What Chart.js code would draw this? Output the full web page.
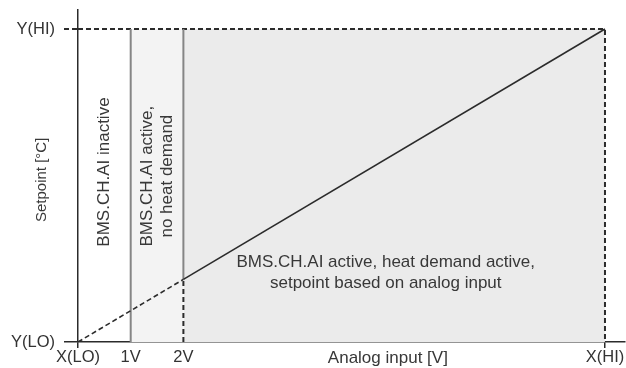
<!DOCTYPE html>
<html>
<head>
<meta charset="utf-8">
<script src="https://cdn.jsdelivr.net/npm/chart.js@4/dist/chart.umd.min.js"></script>
<style>
  html, body { margin: 0; padding: 0; background: #fff; }
  #wrap { width: 626px; height: 368px; }
</style>
</head>
<body>
<div id="wrap"><canvas id="chart"></canvas></div>
<script>
// axis ticks
const xTickValues = [0, 1, 2, 10];
const xTickLabels = ['X(LO)', '1V', '2V', 'X(HI)'];
const yTickValues = [0, 10];
const yTickLabels = ['Y(LO)', 'Y(HI)'];

// setpoint curve: dashed below 2V, solid above
const setpointX = [0, 2, 10];
const setpointY = [0, 2, 10];

// zone borders
const zoneEdges = [0, 1, 2, 10];
const yLow = 0;
const yHigh = 10;

const zoneTexts = [
  ['BMS.CH.AI inactive'],
  ['BMS.CH.AI active,', 'no heat demand'],
  ['BMS.CH.AI active, heat demand active,', 'setpoint based on analog input'],
];

const DARK = '#2b2b2b';
const GREY = '#858585';
const DASH = [5, 3];
const FONT = '"Liberation Sans", Arial, sans-serif';

const pts = (xs, ys) => xs.map((x, i) => ({ x, y: ys[i] }));

// free text: zone captions and axis titles
const textPlugin = {
  id: 'texts',
  afterDatasetsDraw(chart) {
    const { ctx, chartArea, scales: { x, y } } = chart;
    ctx.save();
    ctx.fillStyle = '#383838';
    ctx.textAlign = 'center';
    ctx.textBaseline = 'middle';

    const vertical = (lines, px, py, size, gap) => {
      ctx.save();
      ctx.translate(px, py);
      ctx.rotate(-Math.PI / 2);
      ctx.font = size + 'px ' + FONT;
      lines.forEach((t, i) => ctx.fillText(t, 0, (i - (lines.length - 1) / 2) * gap));
      ctx.restore();
    };
    vertical(zoneTexts[0], x.getPixelForValue((zoneEdges[0] + zoneEdges[1]) / 2), y.getPixelForValue(5.43), 17, 20);
    vertical(zoneTexts[1], x.getPixelForValue((zoneEdges[1] + zoneEdges[2]) / 2), y.getPixelForValue(5.3), 17, 20);

    ctx.font = '17px ' + FONT;
    const mx = x.getPixelForValue(5.84), my = y.getPixelForValue(2.22);
    zoneTexts[2].forEach((t, i) => ctx.fillText(t, mx, my + (i - 0.5) * 21));

    vertical(['Setpoint [°C]'], chartArea.left - 36, y.getPixelForValue(5.18), 15, 0);

    ctx.font = '17px ' + FONT;
    ctx.fillText('Analog input [V]', x.getPixelForValue(5.88), chartArea.bottom + 16);
    ctx.restore();
  }
};

new Chart(document.getElementById('chart'), {
  type: 'scatter',
  data: {
    datasets: [
      {
        data: pts(setpointX, setpointY),
        showLine: true, borderColor: DARK, borderWidth: 1.6, pointRadius: 0,
        segment: { borderDash: c => c.p0DataIndex === 0 ? DASH : undefined },
      },
      {
        data: pts([zoneEdges[1], zoneEdges[1]], [yLow, yHigh]),
        showLine: true, borderColor: GREY, borderWidth: 2, pointRadius: 0,
      },
      {
        data: pts([zoneEdges[2], zoneEdges[2], zoneEdges[2]], [yLow, setpointY[1], yHigh]),
        showLine: true, borderWidth: 2, pointRadius: 0,
        segment: {
          borderColor: c => c.p0DataIndex === 0 ? DARK : GREY,
          borderDash: c => c.p0DataIndex === 0 ? DASH : undefined,
        },
      },
      {
        data: pts([zoneEdges[0], zoneEdges[3], zoneEdges[3]], [yHigh, yHigh, yLow]),
        showLine: true, borderColor: DARK, borderWidth: 2, borderDash: DASH, pointRadius: 0,
      },
      {
        data: pts([zoneEdges[1], zoneEdges[2]], [yHigh, yHigh]),
        showLine: true, borderWidth: 0, pointRadius: 0, fill: 'origin', backgroundColor: '#f3f3f3',
      },
      {
        data: pts([zoneEdges[2], zoneEdges[3]], [yHigh, yHigh]),
        showLine: true, borderWidth: 0, pointRadius: 0, fill: 'origin', backgroundColor: '#ebebeb',
      },
    ],
  },
  options: {
    responsive: true,
    maintainAspectRatio: false,
    animation: false,
    layout: { padding: { top: 10, right: 1, left: 0, bottom: 0 } },
    plugins: { legend: { display: false }, tooltip: { enabled: false } },
    scales: {
      x: {
        type: 'linear', min: 0, max: 10.38,
        afterBuildTicks: s => { s.ticks = xTickValues.map(v => ({ value: v })); },
        afterFit: s => { s.height = 26; s.paddingLeft = 0; s.paddingRight = 0; },
        ticks: {
          autoSkip: false, maxRotation: 0, padding: 0, color: '#333',
          font: { family: FONT, size: 16.5 },
          callback: v => xTickLabels[xTickValues.indexOf(v)],
        },
        grid: {
          drawOnChartArea: false, tickLength: 6, lineWidth: 1.5,
          color: c => (c.tick && (c.tick.value === 0 || c.tick.value === 10)) ? DARK : 'rgba(0,0,0,0)',
        },
        border: { color: DARK, width: 1.5 },
      },
      y: {
        type: 'linear', min: 0, max: 10.607,
        afterBuildTicks: s => { s.ticks = yTickValues.map(v => ({ value: v })); },
        afterFit: s => { s.width = 78; s.paddingTop = 0; s.paddingBottom = 0; },
        ticks: {
          padding: 9, color: '#333',
          font: { family: FONT, size: 16.5 },
          callback: v => yTickLabels[yTickValues.indexOf(v)],
        },
        grid: {
          drawOnChartArea: false, tickLength: 14, lineWidth: c => c.tick && c.tick.value === 10 ? 2 : 1.5,
          color: DARK,
          tickBorderDash: c => c.tick && c.tick.value === 10 ? DASH : [],
        },
        border: { color: DARK, width: 1.5 },
      },
    },
  },
  plugins: [textPlugin],
});
</script>
</body>
</html>
